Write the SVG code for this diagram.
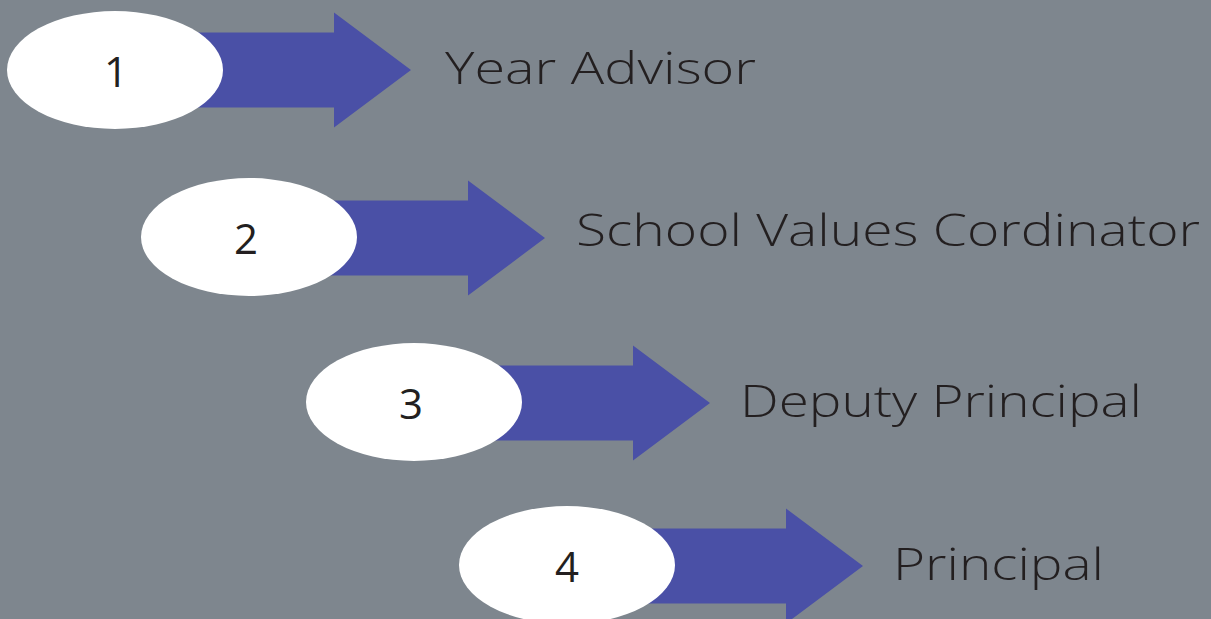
<svg xmlns="http://www.w3.org/2000/svg" width="1211" height="619" viewBox="0 0 1211 619">
<style>
.bg{fill:#7e868e}
.arr{fill:#4a50a6}
.ell{fill:#ffffff}
.num{font-family:"Open Sans","Liberation Sans",sans-serif;font-size:42px;fill:#231f20;text-anchor:middle}
.lbl{font-family:"Open Sans","Liberation Sans",sans-serif;font-weight:300;font-size:44px;fill:#231f20}
</style>
<defs>
<path id="arrow" d="M0,-37.5 H219 V-57.5 L296,0 L219,57.5 V37.5 H0 Z"/>
</defs>
<rect class="bg" x="0" y="0" width="1211" height="619"/>
<g id="connectors">
<use href="#arrow" class="arr" x="115" y="70"/>
<use href="#arrow" class="arr" x="249" y="238"/>
<use href="#arrow" class="arr" x="414" y="403"/>
<use href="#arrow" class="arr" x="567" y="566"/>
</g>
<g id="node1">
<ellipse class="ell" cx="115" cy="70" rx="108" ry="59"/>
<text class="num" x="116" y="87">1</text>
<text class="lbl" x="445" y="84" textLength="311" lengthAdjust="spacingAndGlyphs">Year Advisor</text>
</g>
<g id="node2">
<ellipse class="ell" cx="249" cy="237" rx="108" ry="59"/>
<text class="num" x="246" y="254">2</text>
<text class="lbl" x="576" y="246" textLength="624" lengthAdjust="spacingAndGlyphs">School Values Cordinator</text>
</g>
<g id="node3">
<ellipse class="ell" cx="414" cy="402" rx="108" ry="59"/>
<text class="num" x="411" y="419">3</text>
<text class="lbl" x="740" y="417" textLength="402" lengthAdjust="spacingAndGlyphs">Deputy Principal</text>
</g>
<g id="node4">
<ellipse class="ell" cx="567" cy="565" rx="108" ry="59"/>
<text class="num" x="567" y="582">4</text>
<text class="lbl" x="893" y="580" textLength="211" lengthAdjust="spacingAndGlyphs">Principal</text>
</g>
</svg>
